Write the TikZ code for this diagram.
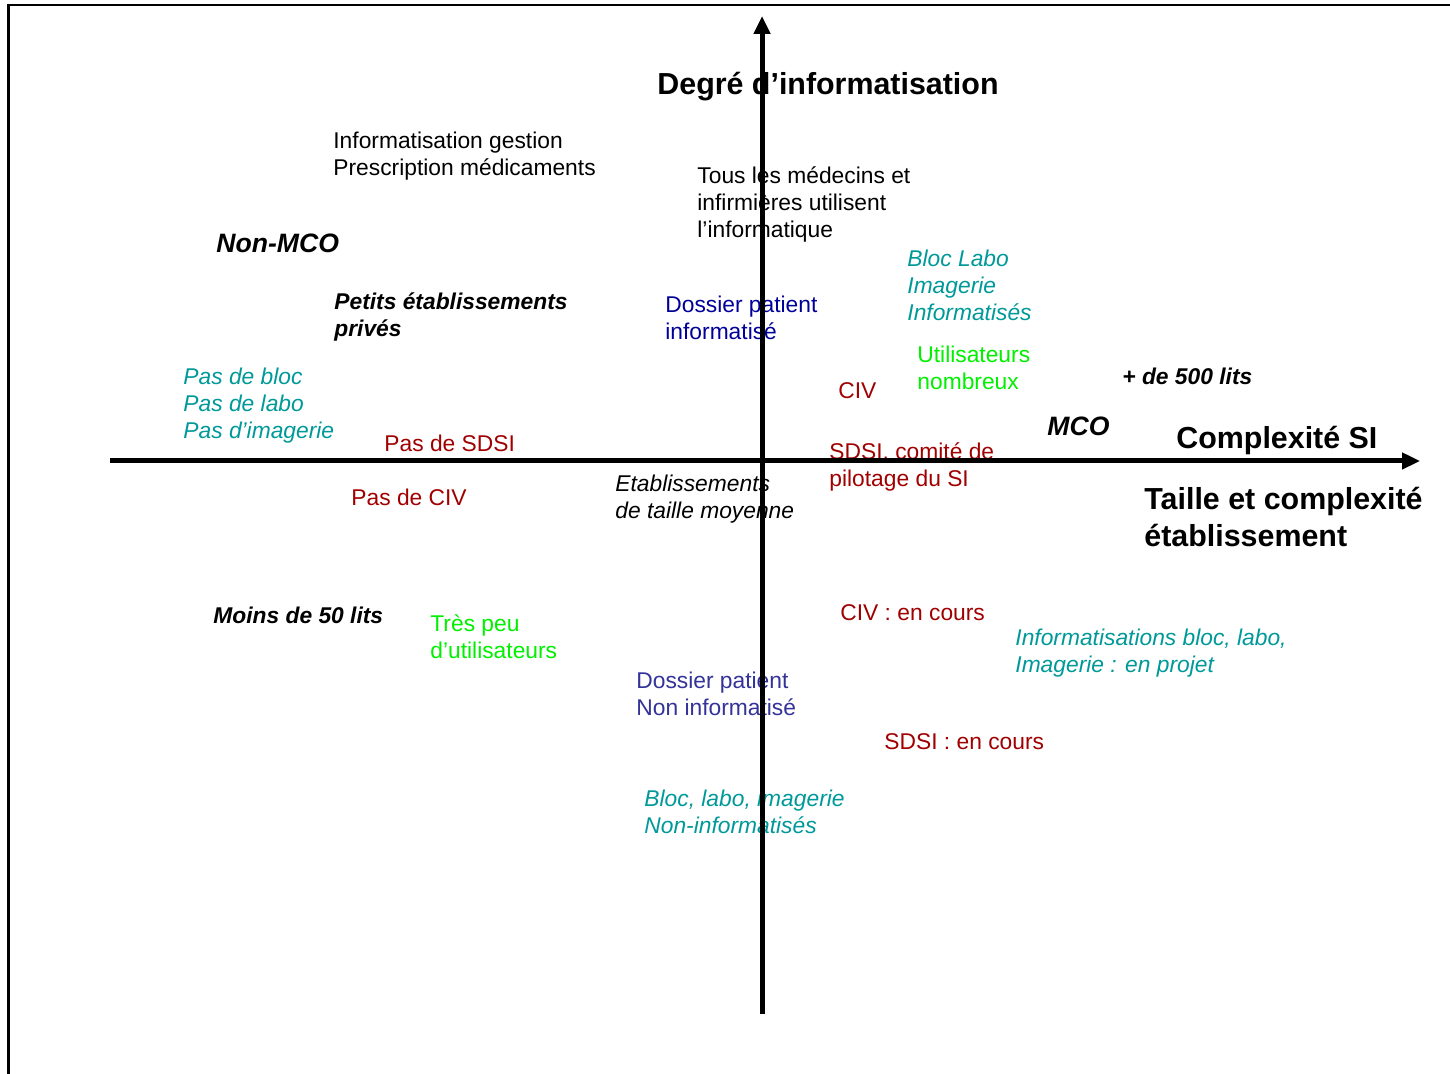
\documentclass[tikz,border=0pt]{standalone}
\usepackage{fontspec}
\setmainfont{Liberation Sans}
\usetikzlibrary{arrows.meta}
\definecolor{tealc}{HTML}{009999}
\definecolor{redc}{HTML}{A00000}
\definecolor{greenc}{HTML}{00F000}
\definecolor{blueA}{HTML}{000099}
\definecolor{blueB}{HTML}{333399}
\newcommand\sx{\rule{0pt}{16pt}}
\tikzset{
  ttxt/.style={anchor=north west, inner sep=0pt, align=left, yshift=16pt,
    font=\fontsize{11.4}{13.5}\selectfont},
  itl/.style={font=\fontsize{11.4}{13.5}\selectfont\itshape},
  tbi/.style={ttxt, font=\fontsize{11.4}{13.5}\selectfont\bfseries\itshape},
  tbim/.style={ttxt, font=\fontsize{13.3}{16}\selectfont\bfseries\itshape},
  tbig/.style={ttxt, font=\fontsize{15.2}{18.5}\selectfont\bfseries},
  axisline/.style={line width=2.5pt, -{Triangle[length=9pt,width=8pt]}},
  framel/.style={line width=1.25pt}
}
\begin{document}
\begin{tikzpicture}[x=0.5pt,y=-0.5pt]
\useasboundingbox (0,0) rectangle (1450,1074);
\fill[white] (0,0) rectangle (1450,1074);
\draw[framel] (8.5,1074) -- (8.5,5) -- (1450,5);

\node[tbig] (deg) at (657,94) {\sx Degré d’informatisation};
\node[ttxt] (gest) at (333,148) {\sx Informatisation gestion\\Prescription médicaments};
\node[ttxt] (tous) at (697,183) {\sx Tous les médecins et\\infirmières utilisent\\l’informatique};
\node[tbim] (nonmco) at (216,252) {\sx Non-MCO};
\node[ttxt,itl,tealc] (bloc) at (907,266) {\sx Bloc Labo\\Imagerie\\Informatisés};
\node[tbi] (petits) at (334,309) {\sx Petits établissements\\privés};
\node[ttxt,blueA] (dpi) at (665,312) {\sx Dossier patient\\informatisé};
\node[ttxt,greenc] (util) at (917,362) {\sx Utilisateurs\\nombreux};
\node[ttxt,itl,tealc] (pas) at (183,384) {\sx Pas de bloc\\Pas de labo\\Pas d’imagerie};
\node[tbi] (p500) at (1122,384) {\sx + de 500 lits};
\node[ttxt,redc] (civ) at (838,398) {\sx CIV};
\node[tbim] (mco) at (1047,435) {\sx MCO};
\node[tbig] (cplx) at (1176,448) {\sx Complexité SI};
\node[ttxt,redc] (psdsi) at (384,451) {\sx Pas de SDSI};
\node[ttxt,redc] (sdsi) at (829,459) {\sx SDSI, comité de\\pilotage du SI};
\node[ttxt,redc] (pciv) at (351,505) {\sx Pas de CIV};
\node[ttxt,itl] (etab) at (615,491) {\sx Etablissements\\de taille moyenne};
\node[tbig] (taille) at (1144,509) {\sx Taille et complexité\\établissement};
\node[tbi] (moins) at (213,623) {\sx Moins de 50 lits};
\node[ttxt,redc] (civc) at (840,620) {\sx CIV : en cours};
\node[ttxt,greenc] (tres) at (430,631) {\sx Très peu\\d’utilisateurs};
\node[ttxt,itl,tealc] (infoproj) at (1015,645) {\sx Informatisations bloc, labo,\\Imagerie : en projet};
\node[ttxt,blueB] (dpn) at (636,688) {\sx Dossier patient\\Non informatisé};
\node[ttxt,redc] (sdsic) at (884,749) {\sx SDSI : en cours};
\node[ttxt,itl,tealc] (blocn) at (644,806) {\sx Bloc, labo, imagerie\\Non-informatisés};

\coordinate (hs) at (110,461);
\coordinate (he) at (1420,461);
\coordinate (vs) at (762,1014);
\coordinate (ve) at (762,16);
\draw[axisline] (hs) -- (he);
\draw[axisline] (vs) -- (ve);
\end{tikzpicture}
\end{document}
